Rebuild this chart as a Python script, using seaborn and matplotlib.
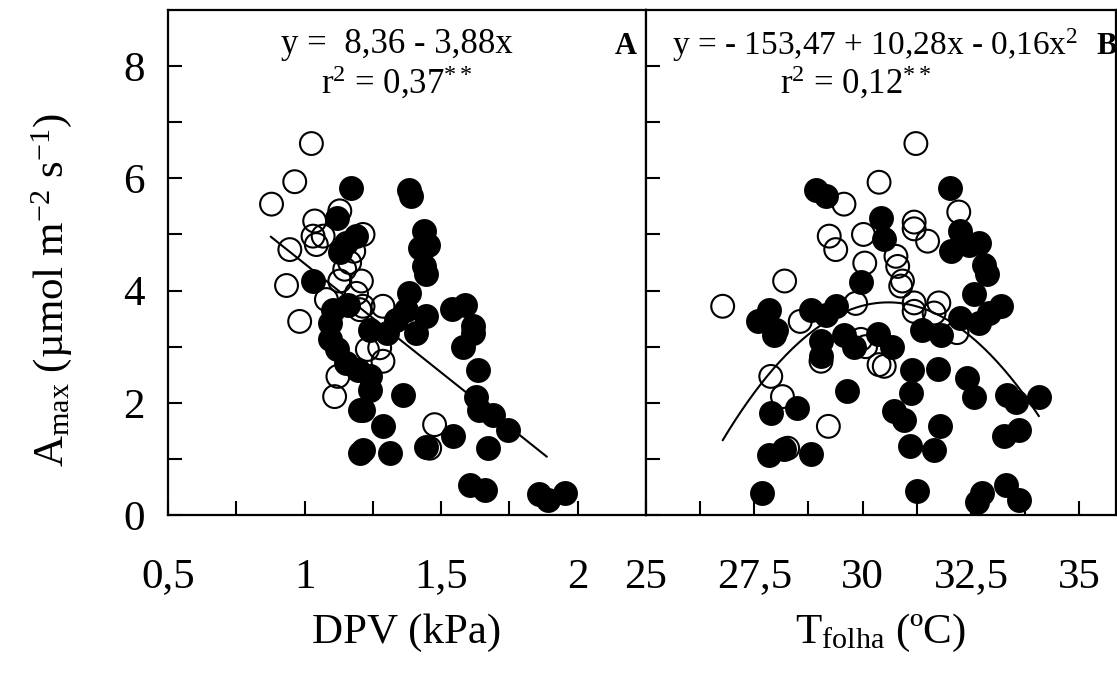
import numpy as np
import pandas as pd
import matplotlib
matplotlib.use("Agg")
import matplotlib.pyplot as plt
import seaborn as sns

# ---------------- data ----------------
a_open_x = [1.025, 0.964, 0.879, 1.129, 1.037, 1.031, 1.068, 1.043, 0.946, 1.165, 1.147, 1.208, 1.129,
            0.934, 1.080, 0.982, 1.202, 1.122, 1.110, 1.214, 1.190, 1.214, 1.287, 1.275, 1.287, 1.230,
            1.476, 1.458, 1.180]
a_open_y = [6.62, 5.94, 5.54, 5.42, 5.24, 4.97, 4.97, 4.82, 4.73, 4.50, 4.38, 4.17, 4.17,
            4.09, 3.84, 3.45, 3.66, 2.47, 2.11, 5.00, 3.95, 3.72, 3.72, 2.98, 2.74, 2.95,
            1.61, 1.19, 4.70]
a_fill_x = [1.171, 1.117, 1.153, 1.190, 1.129, 1.031, 1.104, 1.092, 1.092, 1.117, 1.153, 1.196, 1.202,
            1.202, 1.384, 1.390, 1.439, 1.421, 1.451, 1.439, 1.443, 1.384, 1.540, 1.586, 1.615, 1.616,
            1.579, 1.634, 1.628, 1.640, 1.689, 1.744, 1.360, 1.543, 1.445, 1.671, 1.214, 1.311, 1.604,
            1.659, 1.860, 1.890, 1.955, 1.287, 1.214, 1.238, 1.238, 1.238, 1.336, 1.409, 1.445, 1.372,
            1.300, 1.160]
a_fill_y = [5.83, 5.30, 4.85, 4.97, 4.68, 4.17, 3.66, 3.42, 3.13, 2.95, 2.71, 2.59, 1.88,
            1.10, 5.80, 5.68, 5.06, 4.76, 4.82, 4.43, 4.29, 3.96, 3.67, 3.75, 3.36, 3.24,
            3.00, 2.59, 2.11, 1.88, 1.79, 1.52, 2.14, 1.40, 1.22, 1.19, 1.16, 1.10, 0.54,
            0.45, 0.38, 0.27, 0.40, 1.58, 1.88, 2.23, 2.47, 3.30, 3.48, 3.24, 3.54, 3.66,
            3.25, 3.75]

b_open_x = [26.77, 28.20, 29.57, 30.38, 29.23, 29.38, 30.02, 30.05, 29.84, 28.56, 29.96, 27.88, 28.15,
            29.21, 28.27, 29.04, 30.07, 30.38, 31.23, 32.22, 31.19, 31.19, 31.50, 30.77, 30.81, 30.92,
            30.88, 31.19, 31.19, 31.76, 31.65, 32.18, 30.50]
b_open_y = [3.72, 4.17, 5.54, 5.93, 4.97, 4.73, 5.00, 4.49, 3.77, 3.45, 3.13, 2.47, 2.11,
            1.58, 1.19, 2.74, 3.00, 2.68, 6.62, 5.40, 5.22, 5.10, 4.88, 4.61, 4.43, 4.17,
            4.08, 3.78, 3.63, 3.78, 3.60, 3.25, 2.65]
b_fill_x = [28.92, 29.15, 30.42, 30.50, 29.97, 27.84, 27.58, 28.00, 28.80, 29.38, 29.15, 29.04, 29.57,
            30.36, 27.88, 28.48, 29.65, 27.84, 28.19, 28.80, 27.67, 29.04, 29.80, 27.96, 32.02, 32.26,
            32.69, 32.03, 32.46, 32.80, 32.88, 32.57, 33.19, 32.92, 32.26, 32.69, 31.38, 31.80, 30.69,
            31.15, 31.73, 32.42, 32.57, 33.34, 33.53, 34.07, 31.11, 30.73, 30.96, 31.79, 31.10, 31.65,
            33.26, 33.61, 31.25, 32.65, 32.76, 33.30, 33.61]
b_fill_y = [5.80, 5.68, 5.29, 4.92, 4.15, 3.66, 3.45, 3.30, 3.66, 3.72, 3.57, 3.10, 3.21,
            3.22, 1.82, 1.91, 2.21, 1.07, 1.17, 1.09, 0.39, 2.83, 3.00, 3.21, 5.83, 5.06,
            4.85, 4.70, 4.82, 4.46, 4.29, 3.93, 3.72, 3.60, 3.51, 3.42, 3.30, 3.21, 3.00,
            2.59, 2.60, 2.44, 2.11, 2.14, 2.02, 2.11, 2.17, 1.85, 1.70, 1.58, 1.23, 1.16,
            1.40, 1.52, 0.42, 0.24, 0.39, 0.54, 0.27]

# regression fits
a_fit_coef = [8.36, -3.88]            # y = a + b x
a_fit_range = [0.876, 1.887]
b_fit_coef = [-153.47, 10.28, -0.168]  # y = a + b x + c x^2
b_fit_range = [26.77, 34.07]

a_xticks = [0.5, 1.0, 1.5, 2.0]
a_xticklabels = ["0,5", "1", "1,5", "2"]
b_xticks = [25, 27.5, 30, 32.5, 35]
b_xticklabels = ["25", "27,5", "30", "32,5", "35"]
yticks = [0, 2, 4, 6, 8]

# ---------------- style ----------------
sns.set_style("ticks")
plt.rcParams["font.family"] = ["Liberation Serif", "DejaVu Serif"]
plt.rcParams["mathtext.fontset"] = "custom"
plt.rcParams["mathtext.rm"] = "Liberation Serif"
plt.rcParams["mathtext.it"] = "Liberation Serif:italic"
plt.rcParams["mathtext.bf"] = "Liberation Serif:bold"
for k in ["text.color", "axes.labelcolor", "xtick.color", "ytick.color", "axes.edgecolor"]:
    plt.rcParams[k] = "black"

fig = plt.figure(figsize=(11.17, 6.82), dpi=100)
W, H = 1117, 682
bottom = 1 - 515 / H
height = (515 - 10) / H
axA = fig.add_axes([168 / W, bottom, (646 - 168) / W, height])
axB = fig.add_axes([646 / W, bottom, (1116 - 646) / W, height])

ms = 270
lw_m = 1.5
TICK = 31
TXT = 25

def draw(ax, ox, oy, fx, fy):
    sns.scatterplot(x=ox, y=oy, ax=ax, s=ms, marker="o", facecolor="none",
                    edgecolor="black", linewidth=lw_m, zorder=3)
    sns.scatterplot(x=fx, y=fy, ax=ax, s=ms, marker="o", color="black",
                    edgecolor="black", linewidth=lw_m, zorder=3)

draw(axA, a_open_x, a_open_y, a_fill_x, a_fill_y)
draw(axB, b_open_x, b_open_y, b_fill_x, b_fill_y)

xa = np.linspace(a_fit_range[0], a_fit_range[1], 50)
ya = a_fit_coef[0] + a_fit_coef[1] * xa
sns.lineplot(x=xa, y=ya, ax=axA, color="black", linewidth=1.5, zorder=4)

xb = np.linspace(b_fit_range[0], b_fit_range[1], 200)
yb = b_fit_coef[0] + b_fit_coef[1] * xb + b_fit_coef[2] * xb ** 2
sns.lineplot(x=xb, y=yb, ax=axB, color="black", linewidth=1.5, zorder=4)

for ax in (axA, axB):
    ax.set_ylim(0, 9)
    ax.set_yticks(yticks)
    ax.set_yticks([1, 3, 5, 7], minor=True)
    for s in ax.spines.values():
        s.set_linewidth(1.6)
        s.set_color("black")
    ax.tick_params(axis="both", which="both", direction="in", length=10, width=1.5,
                   labelsize=TICK, top=False, right=False, colors="black")
    ax.tick_params(axis="x", which="both", pad=31)
    ax.tick_params(axis="y", which="both", pad=17)
    ax.set_xlabel("")
    ax.set_ylabel("")

axA.set_xlim(0.5, 2.25)
axA.set_xticks(a_xticks)
axA.set_xticklabels(a_xticklabels)
axA.set_xticks([0.75, 1.25, 1.75], minor=True)
axA.set_yticklabels([str(v) for v in yticks])

axB.set_xlim(25, 35.85)
axB.set_xticks(b_xticks)
axB.set_xticklabels(b_xticklabels)
axB.set_xticks([26.25, 28.75, 31.25, 33.75], minor=True)
axB.set_yticklabels([])

# axis labels
fig.text(52 / W, 1 - 290 / H, r"A$_{\mathrm{max}}$ (µmol m$^{-2}$ s$^{-1}$)", rotation=90,
         ha="center", va="center", fontsize=TICK)
fig.text(407 / W, 1 - 633 / H, "DPV (kPa)", ha="center", va="center", fontsize=TICK)
fig.text(880 / W, 1 - 633 / H, r"T$_{\mathrm{folha}}$ (ºC)", ha="center", va="center", fontsize=TICK)

# equations
axA.text(0.479, 0.931, "y =  8,36 - 3,88x", transform=axA.transAxes, ha="center", va="center",
         fontsize=TXT)
axA.text(0.479, 0.855, r"r$^{2}$ = 0,37$^{**}$", transform=axA.transAxes, ha="center", va="center",
         fontsize=TXT)
axA.text(0.958, 0.927, "A", transform=axA.transAxes, ha="center", va="center",
         fontsize=TXT - 3, fontweight="bold")

axB.text(0.055, 0.931, r"y = - 153,47 + 10,28x - 0,16x$^{2}$", transform=axB.transAxes,
         ha="left", va="center", fontsize=TXT - 1)
axB.text(0.446, 0.855, r"r$^{2}$ = 0,12$^{**}$", transform=axB.transAxes, ha="center", va="center",
         fontsize=TXT)
axB.text(0.98, 0.927, "B", transform=axB.transAxes, ha="center", va="center",
         fontsize=TXT - 3, fontweight="bold")

fig.savefig("out.png", dpi=100)
